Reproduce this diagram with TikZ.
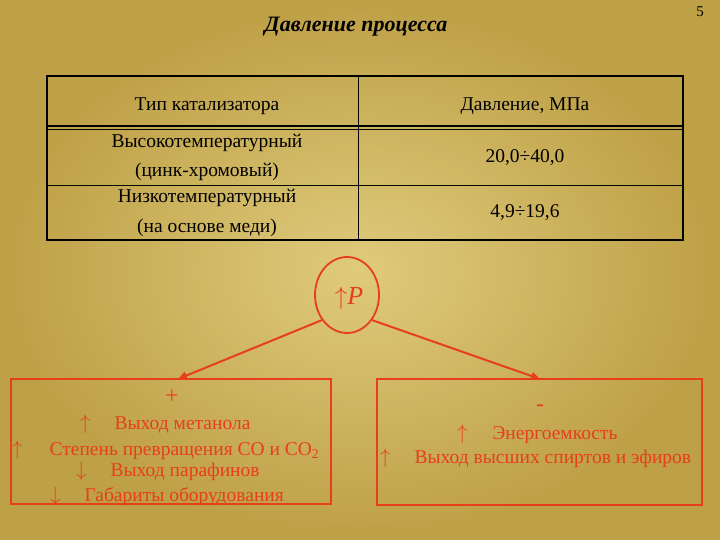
\documentclass[tikz,border=0pt]{standalone}
\usepackage{fontspec}
\setmainfont{Liberation Serif}
\usetikzlibrary{arrows.meta,shapes.geometric}
\definecolor{gold}{RGB}{190,160,70}
\definecolor{goldl}{RGB}{232,214,138}
\definecolor{redd}{RGB}{232,62,28}
\tikzset{
 tx/.style={font=\fontsize{19.5}{21}\selectfont, text=black, inner sep=0},
 rt/.style={font=\fontsize{19.5}{21}\selectfont, text=redd, inner sep=0, anchor=west},
 rbox/.style={draw=redd, line width=1.8pt},
 conn/.style={draw=redd, line width=2pt, -{Triangle[length=9pt,width=8pt]}}
}
\begin{document}
\begin{tikzpicture}[x=1pt,y=-1pt]
\useasboundingbox (0,0) rectangle (720,540);
\fill[gold] (0,0) rectangle (720,540);
\shade[inner color=goldl, outer color=gold, opacity=0.8] (0,0) rectangle (720,540);
\node[tx, font=\bfseries\itshape\fontsize{22}{24}\selectfont] (title) at (356,27) {Давление процесса};
\node[tx, font=\fontsize{15}{17}\selectfont] (pg) at (700,12) {5};
% table
\draw[line width=1.5pt] (47,76) rectangle (683,240);
\draw[line width=1.2pt] (47,126) -- (683,126);
\draw[line width=0.6pt] (47,129) -- (683,129);
\draw[line width=0.8pt] (47,185) -- (683,185);
\draw[line width=0.8pt] (358,76) -- (358,240);
\node[tx] (h1) at (207,106) {Тип катализатора};
\node[tx] (h2) at (525,106) {Давление, МПа};
\node[tx] (a1) at (207,143) {Высокотемпературный};
\node[tx] (a2) at (207,172) {(цинк-хромовый)};
\node[tx] (b1) at (207,198) {Низкотемпературный};
\node[tx] (b2) at (207,228) {(на основе меди)};
\node[tx] (v1) at (525,158) {20,0÷40,0};
\node[tx] (v2) at (525,213) {4,9÷19,6};
% circle
\node[draw=redd, line width=1.8pt, ellipse, minimum width=64pt, minimum height=76pt, inner sep=0] (P) at (347,295) {};
\node[text=redd, font=\fontsize{26}{28}\selectfont, inner sep=0] (Pl) at (349,298) {$\uparrow$\textit{P}};
% boxes
\node[rbox, minimum width=320pt, minimum height=125pt, inner sep=0] (L) at (171,441.5) {};
\node[rbox, minimum width=325pt, minimum height=126pt, inner sep=0] (R) at (539.5,442) {};
\coordinate (Lt) at (178,379);
\coordinate (Rt) at (540,379);
\draw[conn] (P.225) -- (Lt);
\draw[conn] (P.-45) -- (Rt);
\node[text=redd, font=\fontsize{24}{26}\selectfont, inner sep=0] (plus) at (172,397) {+};
\node[rt] (l1) at (80,424) {$\uparrow$\hspace{24pt}Выход метанола};
\node[rt] (l2) at (12,450) {$\uparrow$\hspace{27pt}Степень превращения CO и CO\textsubscript{2}};
\node[rt] (l3) at (76,471) {$\downarrow$\hspace{24pt}Выход парафинов};
\node[rt] (l4) at (50,496) {$\downarrow$\hspace{24pt}Габариты оборудования};
\node[text=redd, font=\fontsize{24}{26}\selectfont, inner sep=0] (minus) at (540,408) {-};
\node[rt] (r1) at (457,434) {$\uparrow$\hspace{25pt}Энергоемкость};
\node[rt] (r2) at (380,458) {$\uparrow$\hspace{24pt}Выход высших спиртов и эфиров};
\end{tikzpicture}
\end{document}
